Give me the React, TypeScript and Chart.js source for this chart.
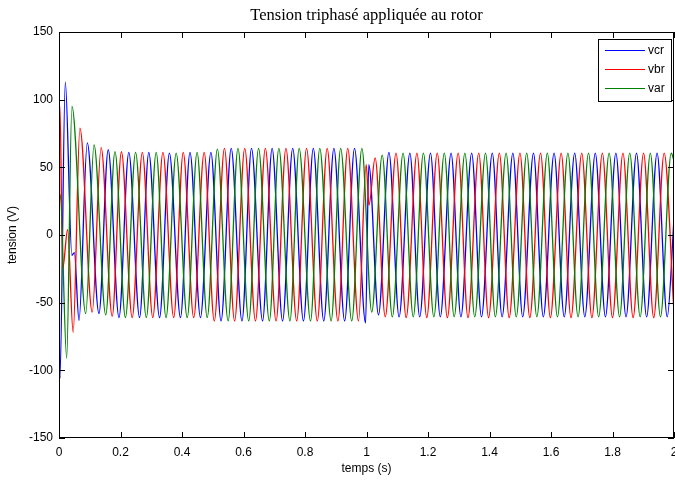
import React, { useEffect, useRef } from "react";
import { Chart, registerables } from "chart.js";

Chart.register(...registerables);

const TITLE = "Tension triphasé appliquée au rotor";
const X_LABEL = "temps (s)";
const Y_LABEL = "tension (V)";

const xTicks = [0, 0.2, 0.4, 0.6, 0.8, 1, 1.2, 1.4, 1.6, 1.8, 2];
const yTicks = [-150, -100, -50, 0, 50, 100, 150];

const seriesNames = ["vcr", "vbr", "var"];
const seriesColors = ["#0000ff", "#ff0000", "#008000"];

// vcr (blue): times (s) of extrema and their values (V)
const vcrT = [
  0, 0.003, 0.0205, 0.042, 0.05, 0.065,
  0.092, 0.13, 0.16, 0.195, 0.227, 0.262, 0.292, 0.327, 0.359, 0.395, 0.426, 0.46, 0.494,
  0.527, 0.56, 0.595, 0.626, 0.662, 0.693, 0.727, 0.76, 0.795, 0.827, 0.861, 0.894, 0.929, 0.961,
  0.997, 1.0075,
  1.039, 1.073, 1.106, 1.141, 1.173, 1.208, 1.24, 1.275, 1.307, 1.342, 1.374, 1.409, 1.441, 1.476,
  1.508, 1.543, 1.575, 1.61, 1.643, 1.677, 1.71, 1.744, 1.777, 1.811, 1.844, 1.878, 1.911, 1.945, 1.978,
  2.0,
];
const vcrV = [
  -45, -106, 113, -15, -13, -63,
  68, -58, 63, -61, 61, -61, 61, -61, 60.5, -61, 61, -61, 61,
  -63.5, 64, -63.5, 64, -63.5, 64, -63.5, 64, -63.5, 64, -63.5, 64, -63.5, 64,
  -65, 52,
  -59, 61, -60.5, 60.5, -60.5, 60.5, -60.5, 60.5, -60.5, 60.5, -60.5, 60.5, -60.5, 60.5,
  -60.5, 60.5, -60.5, 60.5, -60.5, 60.5, -60.5, 60.5, -60.5, 60.5, -60.5, 60.5, -60.5, 60.5, -60.5,
  12,
];

// vbr (red)
const vbrT = [
  0, 0.003, 0.012, 0.028, 0.046, 0.068,
  0.108, 0.137, 0.173, 0.203, 0.238, 0.271, 0.305, 0.338, 0.373, 0.404, 0.438, 0.472,
  0.505, 0.538, 0.571, 0.604, 0.639, 0.671, 0.706, 0.738, 0.773, 0.805, 0.84, 0.872, 0.907, 0.939, 0.974,
  0.999, 1.008,
  1.028, 1.061, 1.096, 1.129, 1.164, 1.196, 1.23, 1.263, 1.298, 1.33, 1.365, 1.397, 1.432, 1.464,
  1.499, 1.531, 1.566, 1.598, 1.633, 1.665, 1.7, 1.733, 1.767, 1.8, 1.834, 1.867, 1.901, 1.934, 1.968,
  2.0,
];
const vbrV = [
  88, 95, -25, 4, -72, 79,
  -57, 64.5, -60, 61.5, -61, 61, -61, 61, -61, 61, -61, 61,
  -63.5, 64, -63.5, 64, -63.5, 64, -63.5, 64, -63.5, 64, -63.5, 64, -63.5, 64, -63.5,
  52, 22,
  57, -60.5, 60.5, -61, 60.5, -61, 60.5, -61, 60.5, -61, 60.5, -61, 60.5, -61,
  60.5, -61, 60.5, -61, 60.5, -61, 60.5, -61, 60.5, -61, 60.5, -61, 60.5, -61, 60.5,
  -57,
];

// var (green)
const varT = [
  0, 0.004, 0.025, 0.042,
  0.087, 0.114, 0.152, 0.182, 0.216, 0.249, 0.284, 0.316, 0.348, 0.381, 0.417, 0.449, 0.482,
  0.515, 0.55, 0.582, 0.617, 0.649, 0.684, 0.715, 0.751, 0.781, 0.818, 0.848, 0.885, 0.916, 0.952, 0.985,
  1.017, 1.051, 1.084, 1.119, 1.152, 1.185, 1.219, 1.253, 1.285, 1.32, 1.352, 1.387, 1.419, 1.454, 1.487,
  1.521, 1.554, 1.588, 1.621, 1.655, 1.688, 1.722, 1.755, 1.789, 1.823, 1.856, 1.89, 1.923, 1.956, 1.991,
  2.0,
];
const varV = [
  20, 30, -91, 95,
  -58, 66.5, -59, 61.6, -61, 61, -61, 61, -61, 60.5, -61, 61, -61,
  63.5, -63.5, 64, -63.5, 64, -63.5, 64, -63.5, 64, -63.5, 64, -63.5, 64, -63.5, 64,
  -57, 59, -60.5, 60.5, -60.5, 60.5, -60.5, 60.5, -60.5, 60.5, -60.5, 60.5, -60.5, 60.5, -60.5,
  60.5, -60.5, 60.5, -60.5, 60.5, -60.5, 60.5, -60.5, 60.5, -60.5, 60.5, -60.5, 60.5, -60.5, 60.5,
  55,
];

const seriesT = [vcrT, vbrT, varT];
const seriesV = [vcrV, vbrV, varV];

const SANS = '"Liberation Sans", Arial, sans-serif';
const SERIF = '"Liberation Serif", "Times New Roman", serif';

const decorPlugin = {
  id: "matlabDecor",
  afterDraw(chart: any) {
    const { ctx, chartArea: a, scales } = chart;
    const xs = scales.x;
    const ys = scales.y;
    ctx.save();
    // axes box
    ctx.strokeStyle = "#000";
    ctx.lineWidth = 1;
    ctx.strokeRect(a.left + 0.5, a.top + 0.5, a.right - a.left - 1, a.bottom - a.top - 1);
    // inward ticks on all four sides
    const TL = 6;
    ctx.beginPath();
    xTicks.forEach((v) => {
      const px = Math.round(xs.getPixelForValue(v)) + 0.5;
      ctx.moveTo(px, a.bottom);
      ctx.lineTo(px, a.bottom - TL);
      ctx.moveTo(px, a.top);
      ctx.lineTo(px, a.top + TL);
    });
    yTicks.forEach((v) => {
      const py = Math.round(ys.getPixelForValue(v)) + 0.5;
      ctx.moveTo(a.left, py);
      ctx.lineTo(a.left + TL, py);
      ctx.moveTo(a.right, py);
      ctx.lineTo(a.right - TL, py);
    });
    ctx.stroke();

    // title
    ctx.fillStyle = "#000";
    ctx.font = `16.5px ${SERIF}`;
    ctx.textAlign = "center";
    ctx.textBaseline = "middle";
    ctx.fillText(TITLE, (a.left + a.right) / 2, 16);

    // axis titles
    ctx.font = `12px ${SANS}`;
    ctx.fillText(X_LABEL, (a.left + a.right) / 2, 469);
    ctx.save();
    ctx.translate(13, (a.top + a.bottom) / 2);
    ctx.rotate(-Math.PI / 2);
    ctx.fillText(Y_LABEL, 0, 0);
    ctx.restore();

    // legend
    const lx = 598, ly = 39, lw = 73, lh = 62;
    ctx.fillStyle = "#fff";
    ctx.fillRect(lx, ly, lw, lh);
    ctx.strokeStyle = "#000";
    ctx.strokeRect(lx + 0.5, ly + 0.5, lw, lh);
    ctx.font = `12px ${SANS}`;
    ctx.textAlign = "left";
    ctx.textBaseline = "middle";
    const rows = [50, 69, 88];
    chart.data.datasets.forEach((ds: any, i: number) => {
      const ry = rows[i] + 0.5;
      ctx.strokeStyle = ds.borderColor;
      ctx.lineWidth = 1;
      ctx.beginPath();
      ctx.moveTo(605, ry);
      ctx.lineTo(645, ry);
      ctx.stroke();
      ctx.fillStyle = "#000";
      ctx.fillText(ds.label, 648, rows[i] + 1);
    });
    ctx.restore();
  },
};

export default function App() {
  const canvasRef = useRef<HTMLCanvasElement | null>(null);

  useEffect(() => {
    const prevMargin = document.body.style.margin;
    document.body.style.margin = "0";
    const canvas = canvasRef.current;
    if (!canvas) return;

    const datasets = seriesNames.map((name, i) => ({
      label: name,
      data: seriesT[i].map((t, k) => ({ x: t, y: seriesV[i][k] })),
      borderColor: seriesColors[i],
      backgroundColor: seriesColors[i],
      borderWidth: 1.3,
      pointRadius: 0,
      pointHoverRadius: 0,
      fill: false,
      cubicInterpolationMode: "monotone" as const,
      order: 2 - i,
    }));

    const chart = new Chart(canvas, {
      type: "line",
      data: { datasets },
      options: {
        animation: false,
        responsive: false,
        devicePixelRatio: 1,
        events: [],
        layout: { padding: { top: 32, right: 1, left: 0, bottom: 0 } },
        plugins: {
          legend: { display: false },
          title: { display: false },
          tooltip: { enabled: false },
        },
        scales: {
          x: {
            type: "linear",
            min: 0,
            max: 2,
            grid: { display: false, drawTicks: false },
            border: { display: false },
            afterBuildTicks: (scale: any) => {
              scale.ticks = xTicks.map((v) => ({ value: v }));
            },
            afterFit: (scale: any) => {
              scale.height = 44;
              scale.paddingLeft = 0;
              scale.paddingRight = 0;
            },
            ticks: {
              autoSkip: false,
              maxRotation: 0,
              minRotation: 0,
              padding: 7,
              color: "#000",
              font: { family: SANS, size: 12 },
              callback: (v: any) => String(+Number(v).toFixed(1)),
            },
          },
          y: {
            type: "linear",
            min: -150,
            max: 150,
            grid: { display: false, drawTicks: false },
            border: { display: false },
            afterBuildTicks: (scale: any) => {
              scale.ticks = yTicks.map((v) => ({ value: v }));
            },
            afterFit: (scale: any) => {
              scale.width = 59;
              scale.paddingTop = 0;
              scale.paddingBottom = 0;
            },
            ticks: {
              autoSkip: false,
              padding: 6,
              color: "#000",
              font: { family: SANS, size: 12 },
              callback: (v: any) => String(v),
            },
          },
        },
      },
      plugins: [decorPlugin],
    });

    return () => {
      chart.destroy();
      document.body.style.margin = prevMargin;
    };
  }, []);

  return (
    <div style={{ position: "relative", width: 675, height: 482 }}>
      <canvas ref={canvasRef} width={675} height={482} style={{ display: "block" }} />
    </div>
  );
}
